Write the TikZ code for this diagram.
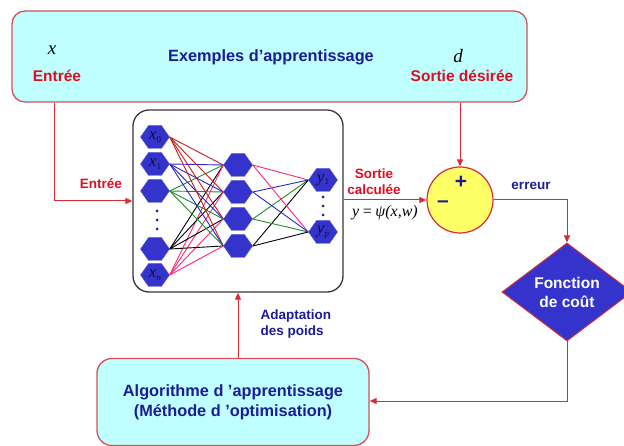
\documentclass[tikz,border=0pt]{standalone}
\usepackage{fontspec}
\setmainfont{Liberation Sans}
\newfontfamily\serfam{Liberation Serif}
\usetikzlibrary{arrows.meta,shapes.geometric,shapes.symbols,calc}
\pgfdeclarelayer{wires}
\pgfsetlayers{wires,main}
\definecolor{cyanfill}{RGB}{191,255,255}
\definecolor{boxred}{RGB}{214,80,90}
\definecolor{linered}{RGB}{212,45,55}
\definecolor{txtred}{RGB}{220,15,35}
\definecolor{txtblue}{RGB}{28,28,150}
\definecolor{hexblue}{RGB}{52,52,204}
\definecolor{hexlabel}{RGB}{15,15,60}
\definecolor{yellowfill}{RGB}{255,255,102}
\definecolor{netgray}{RGB}{55,55,55}
\definecolor{wred}{RGB}{200,30,30}
\definecolor{wblue}{RGB}{40,40,200}
\definecolor{wgreen}{RGB}{30,140,40}
\definecolor{wpink}{RGB}{255,40,120}
\newcommand{\hexlab}[2]{{\serfam\itshape #1\raisebox{-0.35ex}{\fontsize{9}{9}\selectfont #2}}}
\begin{document}
\begin{tikzpicture}[x=1pt,y=-1pt,
  lab/.style={font=\bfseries\fontsize{15.5}{17}\selectfont},
  biglab/.style={font=\bfseries\fontsize{16.3}{20}\selectfont},
  smalllab/.style={font=\bfseries\fontsize{13.5}{16}\selectfont, align=left},
  mathlab/.style={font=\serfam\itshape\fontsize{19}{20}\selectfont},
  conn/.style={draw=linered, line width=1pt},
  arr/.style={conn, -{Triangle[length=7pt,width=6pt]}},
  hex/.style={signal, signal to=east and west, signal pointer angle=110,
    fill=hexblue, draw=hexblue!80!white, line width=0.4pt,
    minimum width=29pt, minimum height=23pt, inner sep=0pt,
    text=hexlabel, font=\fontsize{17}{17}\selectfont},
  dotn/.style={circle, fill=txtblue, inner sep=0pt, minimum size=3pt},
  wire/.style={line width=0.9pt},
]
\useasboundingbox (0,0) rectangle (624,446);

% top box
\node[draw=boxred, line width=1.3pt, fill=cyanfill, rounded corners=13pt,
  minimum width=515pt, minimum height=91pt, inner sep=0pt] (ex) at (269.5,56.5) {};
\node[mathlab] (xin) at (52,50) {x};
\node[biglab, txtblue] (exlab) at (271,57) {Exemples d’apprentissage};
\node[mathlab] (dout) at (458,56) {d};
\node[lab, txtred] (lin) at (57,76) {Entrée};
\node[lab, txtred] (lout) at (462,76) {Sortie désirée};

% network box
\node[draw=netgray, line width=1.3pt, rounded corners=16pt,
  minimum width=210pt, minimum height=182pt, inner sep=0pt] (net) at (238,201) {};

% neurons
\node[hex] (i0) at (155,137) {\hexlab{x}{\upshape 0}};
\node[hex] (i1) at (155,164) {\hexlab{x}{\upshape 1}};
\node[hex] (i2) at (155,191) {};
\node[hex] (i3) at (155,249) {};
\node[hex] (i4) at (155,275) {\hexlab{x}{n}};
\node[hex] (h1) at (238,165) {};
\node[hex] (h2) at (238,192) {};
\node[hex] (h3) at (238,219) {};
\node[hex] (h4) at (238,246) {};
\node[hex] (o1) at (323,180) {\hexlab{y}{\upshape 1}};
\node[hex] (o2) at (323,232) {\hexlab{y}{p}};
\begin{pgfonlayer}{wires}
\foreach \h in {h1,h2,h3,h4}{
  \draw[wire, wred] (i0.east) -- (\h.west);
  \draw[wire, wblue] (i1.east) -- (\h.west);
  \draw[wire, wgreen] (i2.east) -- (\h.west);
  \draw[wire, black] (i3.east) -- (\h.west);
  \draw[wire, wpink] (i4.east) -- (\h.west);
}
\foreach \o in {o1,o2}{
  \draw[wire, wpink] (h1.east) -- (\o.west);
  \draw[wire, wblue] (h2.east) -- (\o.west);
  \draw[wire, wgreen] (h3.east) -- (\o.west);
  \draw[wire, black] (h4.east) -- (\o.west);
}
\end{pgfonlayer}
\node[dotn] (di1) at (157,211) {};
\node[dotn] (di2) at (157,220) {};
\node[dotn] (di3) at (157,229) {};
\node[dotn] (do1) at (323,197) {};
\node[dotn] (do2) at (323,206) {};
\node[dotn] (do3) at (323,215) {};

% summing circle
\node[circle, draw=linered, line width=1.2pt, fill=yellowfill, minimum size=66pt, inner sep=0pt] (sum) at (460,200) {};
\node[font=\bfseries\fontsize{21}{21}\selectfont, txtblue] (plus) at (461,182) {+};
\node[font=\bfseries\fontsize{21}{21}\selectfont, txtblue] (minus) at (443,204) {–};

% cost diamond
\node[diamond, draw=linered, line width=1pt, fill=hexblue, aspect=1.3,
  minimum width=130pt, minimum height=98pt, inner sep=0pt,
  text=white, align=center, font=\bfseries\fontsize{15.5}{19}\selectfont] (cost) at (567,292) {Fonction\\de coût};

% algorithm box
\node[draw=boxred, line width=1.3pt, fill=cyanfill, rounded corners=15pt,
  minimum width=272pt, minimum height=87pt, inner sep=0pt,
  align=center, text=txtblue, biglab] (algo) at (233,402) {Algorithme d ’apprentissage\\(Méthode d ’optimisation)};

% connector labels
\node[smalllab, txtred] (lentree) at (101,184) {Entrée};
\node[smalllab, txtred, align=center] (lsortie) at (374,182) {Sortie\\calculée};
\node[font=\serfam\itshape\fontsize{16}{16}\selectfont] (psi) at (385,213) {y\,=\,ψ(x,w)};
\node[smalllab, txtblue] (lerr) at (531,186) {erreur};
\node[smalllab, txtblue, anchor=west] (ladapt) at (257,324) {Adaptation\\des poids};

% connectors
\draw[arr] ([xshift=43pt]ex.south west) |- (net.west);
\draw[arr] (sum.north |- ex.south) -- (sum.north);
\draw[arr] (sum.west -| net.east) -- (sum.west);
\draw[arr] (sum.east) -| (cost.north);
\draw[arr] (cost.south) |- ([yshift=1pt]algo.east);
\draw[arr] (net.south |- algo.north) -- (net.south);
\end{tikzpicture}
\end{document}
